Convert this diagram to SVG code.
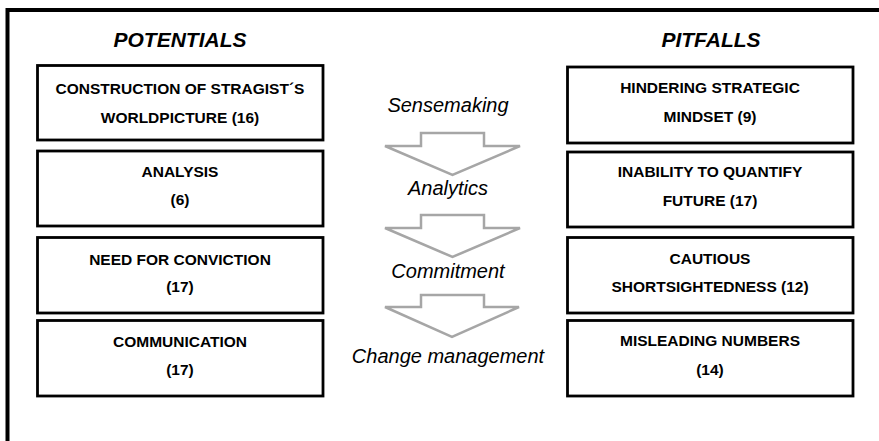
<svg xmlns="http://www.w3.org/2000/svg" width="879" height="441" viewBox="0 0 879 441">
<style>
.frame{fill:none;stroke:#000;stroke-width:4}
.box{fill:#fff;stroke:#000;stroke-width:2.8}
.head{font-family:"Liberation Sans",Arial,sans-serif;font-weight:bold;font-style:italic;font-size:21px;fill:#000;text-anchor:middle}
.t{font-family:"Liberation Sans",Arial,sans-serif;font-weight:bold;font-size:15.5px;fill:#000;text-anchor:middle}
.lbl{font-family:"Liberation Sans",Arial,sans-serif;font-style:italic;font-size:20px;fill:#000;text-anchor:middle}
.arr{fill:#fff;stroke:#a6a6a6;stroke-width:2.5;stroke-linejoin:miter}
</style>
<rect width="879" height="441" fill="#fff"/>
<rect class="frame" x="7.5" y="10" width="900" height="500"/>
<text class="head" x="180" y="47">POTENTIALS</text>
<text class="head" x="711" y="47">PITFALLS</text>

<g id="p1"><rect class="box" x="37.5" y="65.5" width="285.5" height="74.5"/><text class="t" x="180" y="94">CONSTRUCTION OF STRAGIST´S</text><text class="t" x="180" y="123">WORLDPICTURE (16)</text></g>
<g id="p2"><rect class="box" x="37.5" y="151" width="285.5" height="75"/><text class="t" x="180" y="177">ANALYSIS</text><text class="t" x="180" y="205">(6)</text></g>
<g id="p3"><rect class="box" x="37.5" y="237.5" width="285.5" height="75.5"/><text class="t" x="180" y="265">NEED FOR CONVICTION</text><text class="t" x="180" y="292">(17)</text></g>
<g id="p4"><rect class="box" x="37.5" y="320.5" width="285.5" height="75.5"/><text class="t" x="180" y="347">COMMUNICATION</text><text class="t" x="180" y="375">(17)</text></g>

<g id="f1"><rect class="box" x="567.5" y="67" width="285.5" height="76"/><text class="t" x="710" y="93">HINDERING STRATEGIC</text><text class="t" x="710" y="122">MINDSET (9)</text></g>
<g id="f2"><rect class="box" x="567.5" y="152" width="285.5" height="75"/><text class="t" x="710" y="177">INABILITY TO QUANTIFY</text><text class="t" x="710" y="206">FUTURE  (17)</text></g>
<g id="f3"><rect class="box" x="567.5" y="237.5" width="285.5" height="75.5"/><text class="t" x="710" y="264">CAUTIOUS</text><text class="t" x="710" y="292">SHORTSIGHTEDNESS (12)</text></g>
<g id="f4"><rect class="box" x="567.5" y="320.5" width="285.5" height="75.5"/><text class="t" x="710" y="346">MISLEADING NUMBERS</text><text class="t" x="710" y="375">(14)</text></g>

<g id="stages">
<text class="lbl" x="448" y="112">Sensemaking</text>
<text class="lbl" x="448" y="195">Analytics</text>
<text class="lbl" x="448" y="278">Commitment</text>
<text class="lbl" x="448" y="363">Change management</text>
</g>
<g id="connectors">
<path class="arr" d="M421 133 H484 V146 H520 L452.5 175 L385 146 H421 Z"/>
<path class="arr" d="M421 215 H484 V228 H520 L452.5 257 L385 228 H421 Z"/>
<path class="arr" d="M421 295 H484 V307 H519 L452 337 L385 307 H421 Z"/>
</g>
</svg>
